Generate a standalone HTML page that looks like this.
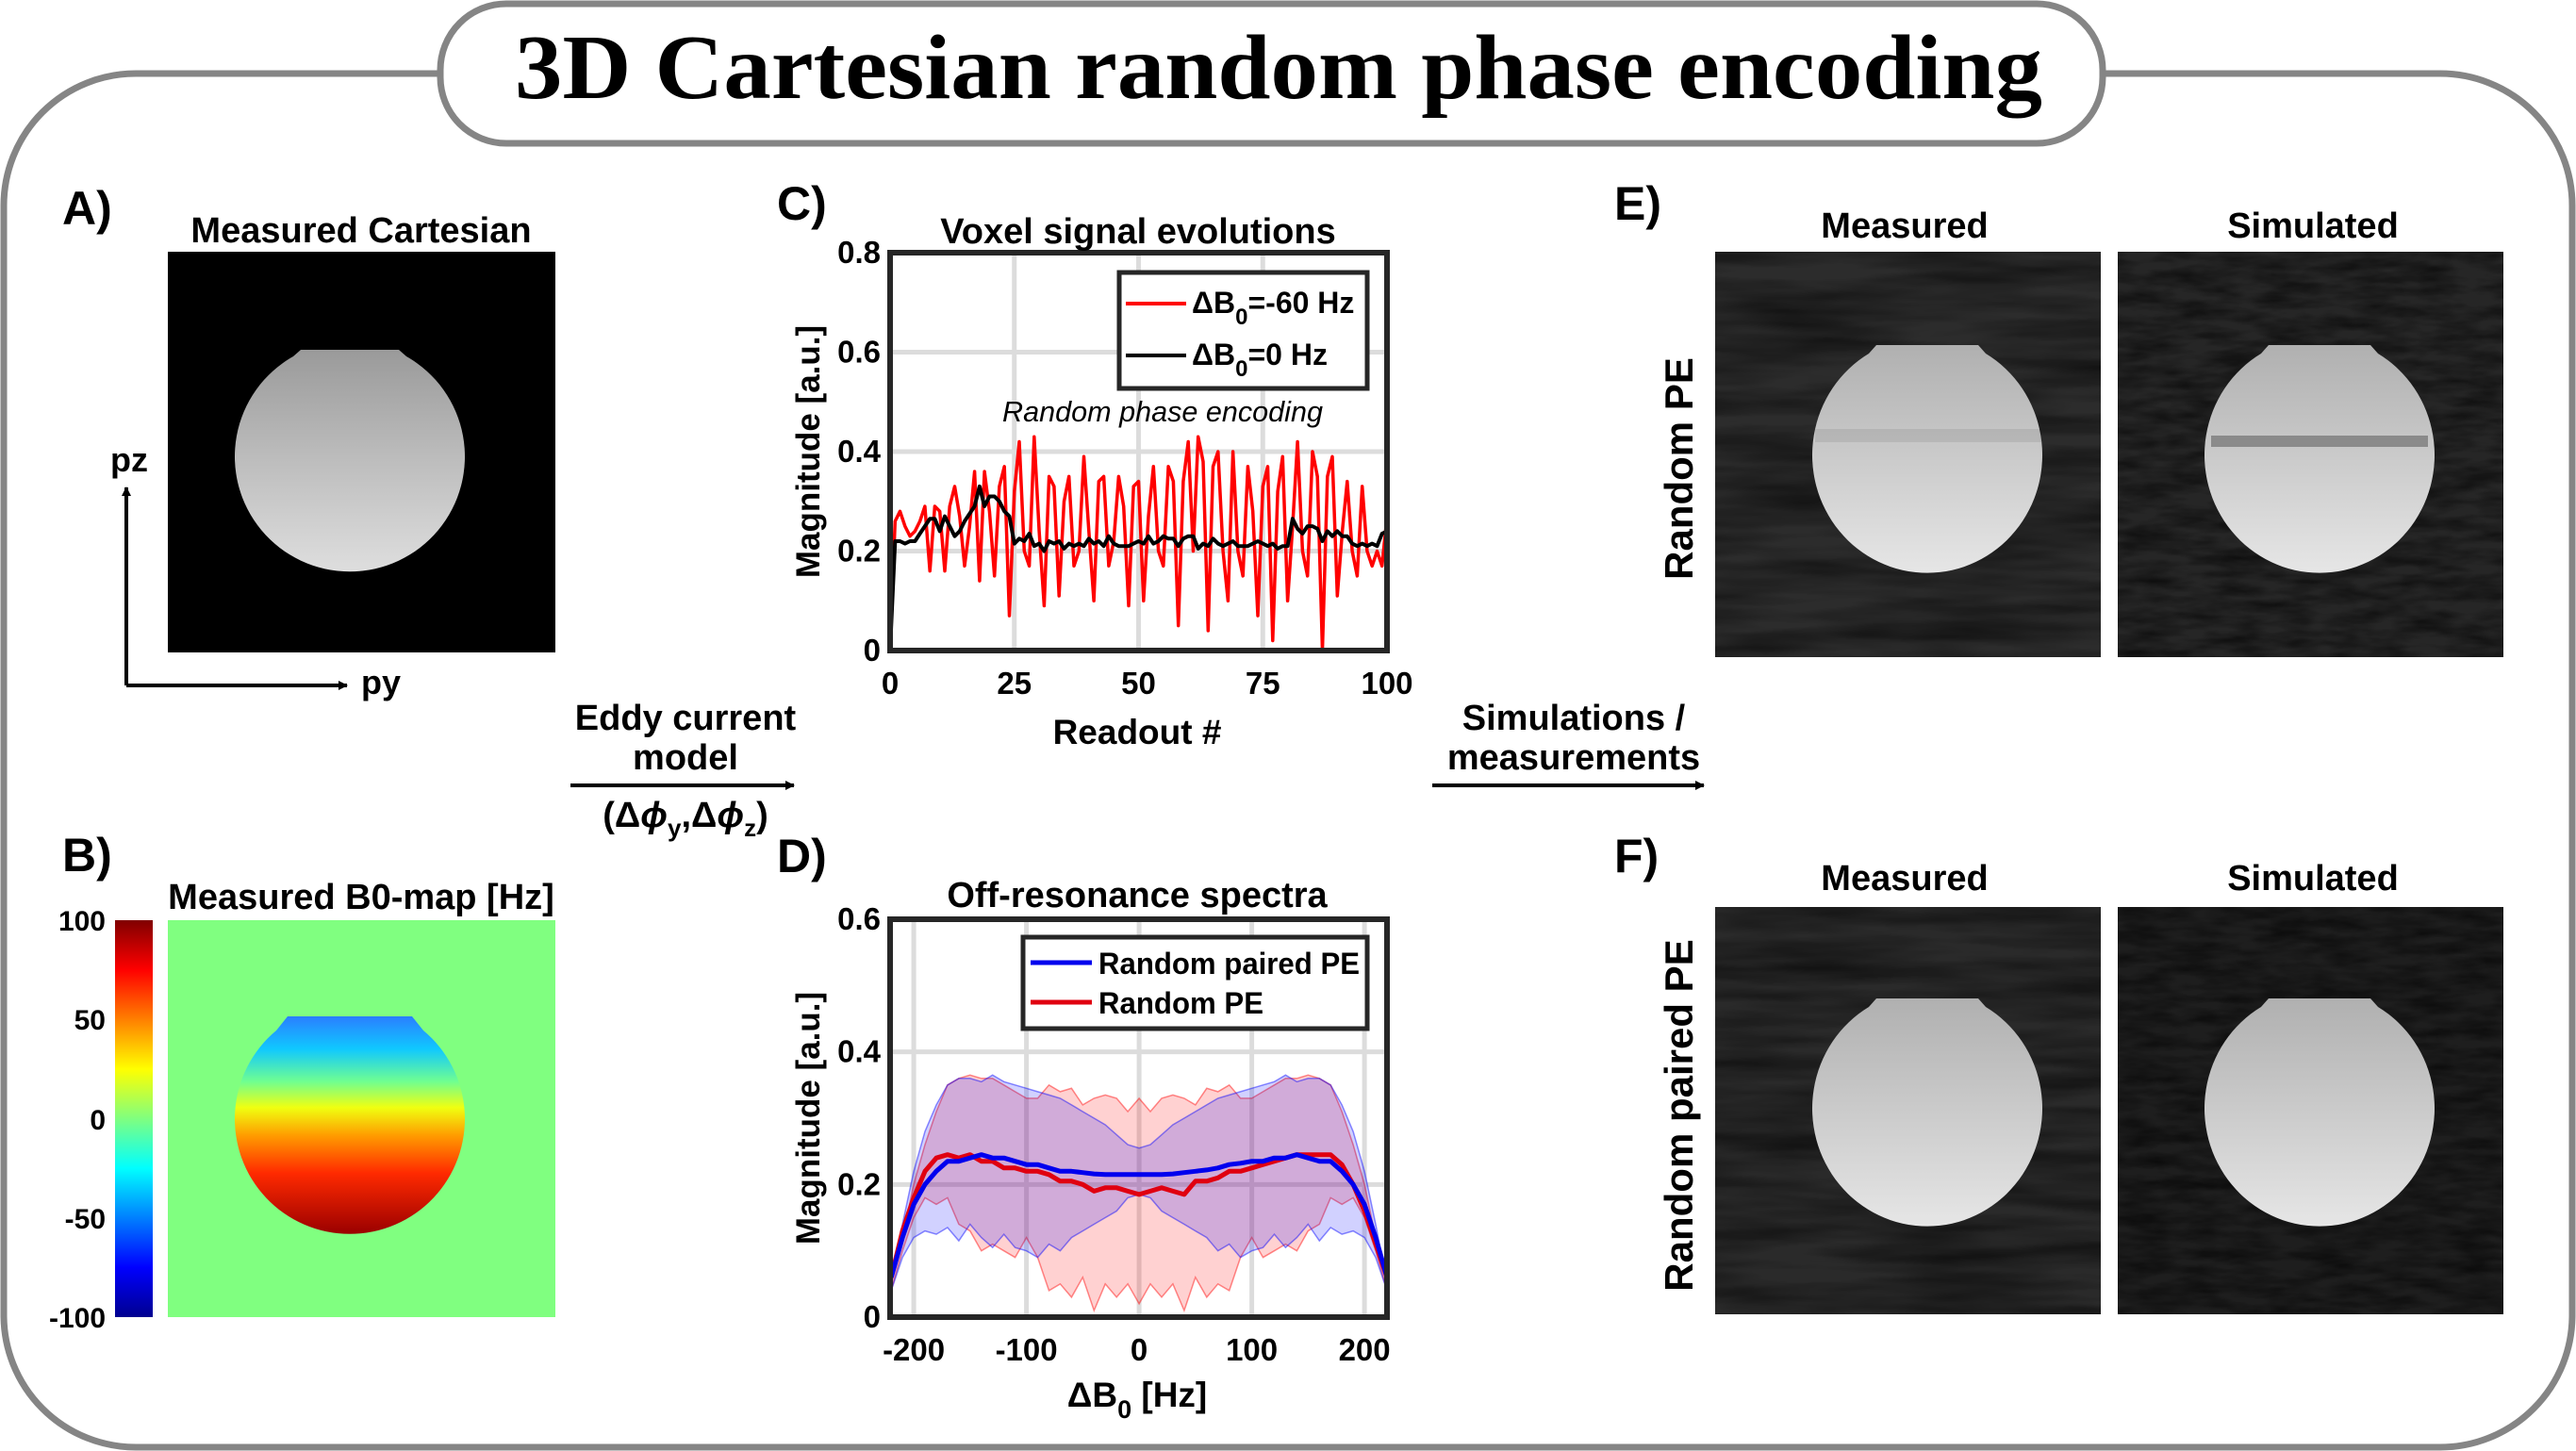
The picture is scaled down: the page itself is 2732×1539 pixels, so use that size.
<!DOCTYPE html>
<html><head><meta charset="utf-8">
<style>
html,body{margin:0;padding:0;background:#fff;}
svg{display:block;font-family:"Liberation Sans",sans-serif;}
.b{font-weight:bold;}
</style></head>
<body>
<svg id="fig" width="2732" height="1539" viewBox="0 0 2732 1539" xmlns="http://www.w3.org/2000/svg">
<defs>
  <filter id="noiseA" x="0" y="0" width="100%" height="100%">
    <feTurbulence type="fractalNoise" baseFrequency="0.006 0.05" numOctaves="3" seed="3"/>
    <feColorMatrix type="matrix" values="0 0 0 0 0  0 0 0 0 0  0 0 0 0 0  0 0 0 0.9 -0.25"/>
  </filter>
  <filter id="noiseB" x="0" y="0" width="100%" height="100%">
    <feTurbulence type="fractalNoise" baseFrequency="0.02 0.08" numOctaves="3" seed="7"/>
    <feColorMatrix type="matrix" values="0 0 0 0 0  0 0 0 0 0  0 0 0 0 0  0 0 0 1.0 -0.3"/>
  </filter>
  <linearGradient id="phantomG" x1="0" y1="0" x2="0" y2="1">
    <stop offset="0" stop-color="#b0b0b0"/><stop offset="1" stop-color="#e6e6e6"/>
  </linearGradient>
  <linearGradient id="phantomA" x1="0" y1="0" x2="0" y2="1">
    <stop offset="0" stop-color="#9a9a9a"/><stop offset="0.5" stop-color="#bdbdbd"/><stop offset="1" stop-color="#dedede"/>
  </linearGradient>
  <linearGradient id="jetMap" x1="0" y1="0" x2="0" y2="1">
    <stop offset="0" stop-color="#2a7fff"/><stop offset="0.15" stop-color="#10c8ff"/>
    <stop offset="0.3" stop-color="#70ff90"/><stop offset="0.42" stop-color="#f0ff10"/>
    <stop offset="0.55" stop-color="#ff9a00"/><stop offset="0.72" stop-color="#ff2a00"/>
    <stop offset="1" stop-color="#9a0000"/>
  </linearGradient>
  <linearGradient id="jetBar" x1="0" y1="1" x2="0" y2="0">
    <stop offset="0" stop-color="#00008f"/><stop offset="0.125" stop-color="#0000ff"/>
    <stop offset="0.375" stop-color="#00ffff"/><stop offset="0.625" stop-color="#ffff00"/>
    <stop offset="0.875" stop-color="#ff0000"/><stop offset="1" stop-color="#800000"/>
  </linearGradient>
  <marker id="arr" markerWidth="10" markerHeight="10" refX="9" refY="5" orient="auto" markerUnits="userSpaceOnUse">
    <path d="M0,0 L10,5 L0,10 z" fill="#000"/>
  </marker>
</defs>

<rect x="4" y="78" width="2724" height="1457" rx="140" ry="140" fill="#fff" stroke="#858585" stroke-width="7"/>
<rect x="467" y="4" width="1763" height="148" rx="70" ry="70" fill="#fff" stroke="#858585" stroke-width="7"/>
<text x="1356" y="104" text-anchor="middle" font-family="'Liberation Serif',serif" font-weight="bold" font-size="98" textLength="1620" lengthAdjust="spacingAndGlyphs">3D Cartesian random phase encoding</text>

<!-- Panel A -->
<text class="b" x="66" y="238" font-size="50">A)</text>
<text class="b" x="383" y="257" text-anchor="middle" font-size="38">Measured Cartesian</text>
<g>
  <rect x="178" y="267" width="411" height="425" fill="#000"/>
  <path d="M319,371 L423,371 L431,378 A122,122 0 1 1 311,378 Z" fill="url(#phantomA)"/>
</g>
<line x1="134" y1="727" x2="134" y2="517" stroke="#000" stroke-width="4" marker-end="url(#arr)"/>
<line x1="134" y1="727" x2="368" y2="727" stroke="#000" stroke-width="4" marker-end="url(#arr)"/>
<text class="b" x="137" y="500" text-anchor="middle" font-size="36">pz</text>
<text class="b" x="404" y="736" text-anchor="middle" font-size="36">py</text>

<!-- Panel B -->
<text class="b" x="66" y="924" font-size="50">B)</text>
<text class="b" x="383" y="964" text-anchor="middle" font-size="38">Measured B0-map [Hz]</text>
<rect x="122" y="976" width="40" height="421" fill="url(#jetBar)"/>
<g class="b" font-size="30" text-anchor="end">
  <text x="112" y="987">100</text><text x="112" y="1092">50</text><text x="112" y="1198">0</text>
  <text x="112" y="1303">-50</text><text x="112" y="1408">-100</text>
</g>
<g>
  <rect x="178" y="976" width="411" height="421" fill="#80ff80"/>
  <path d="M305,1078 L437,1078 L449,1093 A122,122 0 1 1 293,1093 Z" fill="url(#jetMap)"/>
</g>

<g class="b" font-size="38" text-anchor="middle">
  <text x="727" y="774">Eddy current</text><text x="727" y="816">model</text>
</g>
<line x1="605" y1="833" x2="842" y2="833" stroke="#000" stroke-width="4" marker-end="url(#arr)"/>
<text class="b" x="727" y="877" text-anchor="middle" font-size="38">(Δ<tspan font-style="italic">ϕ</tspan><tspan font-size="26" dy="10">y</tspan><tspan dy="-10">,Δ</tspan><tspan font-style="italic">ϕ</tspan><tspan font-size="26" dy="10">z</tspan><tspan dy="-10">)</tspan></text>
<g class="b" font-size="38" text-anchor="middle">
  <text x="1669" y="774">Simulations /</text><text x="1669" y="816">measurements</text>
</g>
<line x1="1519" y1="833" x2="1807" y2="833" stroke="#000" stroke-width="4" marker-end="url(#arr)"/>

<text class="b" x="824" y="233" font-size="50">C)</text>
<text class="b" x="824" y="925" font-size="50">D)</text>
<g id="chartC"></g>
<g id="chartD"></g>

<!-- Panel E -->
<text class="b" x="1712" y="233" font-size="50">E)</text>
<text class="b" x="2020" y="252" text-anchor="middle" font-size="38">Measured</text>
<text class="b" x="2453" y="252" text-anchor="middle" font-size="38">Simulated</text>
<text class="b" font-size="42" text-anchor="middle" transform="translate(1795,497) rotate(-90)">Random PE</text>
<g>
  <rect x="1819" y="267" width="409" height="430" fill="#2c2c2c"/>
  <rect x="1819" y="267" width="409" height="430" fill="#6a6a6a" filter="url(#noiseA)"/>
  <path d="M1990,366 L2098,366 L2106,375 A122,125 0 1 1 1982,375 Z" fill="url(#phantomG)"/>
  <rect x="1925" y="455" width="240" height="14" fill="#000" opacity="0.08"/>
</g>
<g>
  <rect x="2246" y="267" width="409" height="430" fill="#262626"/>
  <rect x="2246" y="267" width="409" height="430" fill="#707070" filter="url(#noiseB)"/>
  <path d="M2406,366 L2514,366 L2522,375 A122,125 0 1 1 2398,375 Z" fill="url(#phantomG)"/>
  <rect x="2345" y="462" width="230" height="12" fill="#000" opacity="0.3"/>
</g>

<!-- Panel F -->
<text class="b" x="1712" y="925" font-size="50">F)</text>
<text class="b" x="2020" y="944" text-anchor="middle" font-size="38">Measured</text>
<text class="b" x="2453" y="944" text-anchor="middle" font-size="38">Simulated</text>
<text class="b" font-size="42" text-anchor="middle" transform="translate(1795,1183) rotate(-90)">Random paired PE</text>
<g>
  <rect x="1819" y="962" width="409" height="432" fill="#2a2a2a"/>
  <rect x="1819" y="962" width="409" height="432" fill="#5a5a5a" filter="url(#noiseA)"/>
  <path d="M1990,1059 L2098,1059 L2106,1068 A122,125 0 1 1 1982,1068 Z" fill="url(#phantomG)"/>
</g>
<g>
  <rect x="2246" y="962" width="409" height="432" fill="#1e1e1e"/>
  <rect x="2246" y="962" width="409" height="432" fill="#4a4a4a" filter="url(#noiseB)"/>
  <path d="M2406,1059 L2514,1059 L2522,1068 A122,125 0 1 1 2398,1068 Z" fill="url(#phantomG)"/>
</g>
</svg>

<script>
const NS = "http://www.w3.org/2000/svg";
// ---- Chart C data ----
const cXTicks = [0, 25, 50, 75, 100];
const cYTicks = [0, 0.2, 0.4, 0.6, 0.8];
const cYTickLabels = ["0", "0.2", "0.4", "0.6", "0.8"];
const cRed = [0,0.26,0.28,0.25,0.23,0.24,0.26,0.29,0.16,0.29,0.28,0.16,0.29,0.33,0.27,0.17,0.25,0.36,0.14,0.36,0.28,0.15,0.33,0.37,0.07,0.32,0.42,0.20,0.17,0.43,0.24,0.09,0.35,0.33,0.11,0.30,0.35,0.17,0.20,0.39,0.24,0.10,0.34,0.35,0.17,0.22,0.35,0.29,0.09,0.33,0.34,0.10,0.27,0.37,0.20,0.17,0.37,0.34,0.05,0.34,0.42,0.20,0.43,0.38,0.04,0.37,0.40,0.20,0.10,0.40,0.20,0.15,0.37,0.28,0.07,0.33,0.37,0.02,0.32,0.39,0.10,0.25,0.42,0.20,0.15,0.40,0.35,0.00,0.35,0.39,0.11,0.24,0.34,0.20,0.15,0.33,0.20,0.17,0.20,0.17,0.27];
const cBlack = [0,0.22,0.22,0.215,0.22,0.22,0.235,0.25,0.265,0.265,0.24,0.27,0.25,0.23,0.24,0.26,0.275,0.29,0.33,0.29,0.31,0.31,0.30,0.28,0.27,0.215,0.225,0.22,0.235,0.21,0.215,0.20,0.22,0.215,0.22,0.205,0.215,0.21,0.215,0.21,0.225,0.215,0.22,0.21,0.23,0.215,0.21,0.21,0.21,0.215,0.22,0.215,0.23,0.215,0.22,0.23,0.225,0.225,0.21,0.225,0.23,0.23,0.205,0.215,0.21,0.225,0.215,0.21,0.215,0.22,0.21,0.21,0.21,0.215,0.22,0.215,0.21,0.215,0.205,0.21,0.21,0.265,0.245,0.235,0.25,0.25,0.245,0.22,0.24,0.23,0.24,0.23,0.23,0.215,0.21,0.215,0.21,0.215,0.21,0.235,0.24];
// ---- Chart D data ----
const dHz = [-220,-210,-200,-190,-180,-170,-160,-150,-140,-130,-120,-110,-100,-90,-80,-70,-60,-50,-40,-30,-20,-10,0,10,20,30,40,50,60,70,80,90,100,110,120,130,140,150,160,170,180,190,200,210,220];
const dXTicks = [-200,-100,0,100,200];
const dYTicks = [0,0.2,0.4,0.6];
const dYTickLabels = ["0","0.2","0.4","0.6"];
const dBlueMean = [0.06,0.12,0.17,0.20,0.22,0.235,0.235,0.24,0.245,0.24,0.24,0.235,0.23,0.23,0.225,0.22,0.22,0.218,0.216,0.215,0.215,0.215,0.215,0.215,0.215,0.216,0.218,0.22,0.222,0.225,0.23,0.232,0.235,0.235,0.24,0.24,0.245,0.24,0.235,0.235,0.22,0.20,0.17,0.12,0.06];
const dRedMean = [0.06,0.13,0.18,0.22,0.24,0.245,0.24,0.245,0.235,0.235,0.225,0.225,0.22,0.22,0.215,0.205,0.205,0.20,0.19,0.195,0.195,0.19,0.185,0.19,0.195,0.19,0.185,0.205,0.205,0.21,0.22,0.22,0.225,0.23,0.235,0.24,0.245,0.245,0.245,0.245,0.23,0.20,0.16,0.11,0.06];
const dBlueUpper = [0.05,0.14,0.22,0.28,0.32,0.35,0.36,0.36,0.355,0.365,0.355,0.35,0.345,0.34,0.335,0.33,0.32,0.31,0.30,0.29,0.275,0.26,0.255,0.26,0.275,0.29,0.30,0.31,0.32,0.33,0.335,0.34,0.345,0.35,0.355,0.365,0.355,0.36,0.36,0.35,0.32,0.28,0.22,0.14,0.05];
const dBlueLower = [0.04,0.09,0.12,0.13,0.125,0.135,0.115,0.14,0.12,0.105,0.125,0.105,0.10,0.09,0.11,0.10,0.12,0.13,0.14,0.15,0.16,0.18,0.185,0.18,0.16,0.15,0.14,0.13,0.12,0.10,0.11,0.09,0.10,0.105,0.125,0.105,0.12,0.14,0.115,0.135,0.125,0.13,0.12,0.09,0.04];
const dRedUpper = [0.05,0.12,0.20,0.26,0.31,0.35,0.36,0.365,0.36,0.36,0.35,0.34,0.33,0.33,0.35,0.34,0.345,0.32,0.33,0.335,0.33,0.31,0.33,0.31,0.33,0.335,0.33,0.32,0.345,0.34,0.35,0.33,0.33,0.34,0.35,0.36,0.36,0.365,0.36,0.35,0.31,0.26,0.20,0.12,0.05];
const dRedLower = [0.04,0.10,0.15,0.18,0.17,0.18,0.14,0.13,0.10,0.11,0.10,0.09,0.12,0.09,0.04,0.05,0.03,0.06,0.01,0.05,0.03,0.05,0.02,0.05,0.03,0.05,0.01,0.06,0.03,0.05,0.04,0.09,0.12,0.09,0.10,0.11,0.10,0.13,0.14,0.18,0.17,0.18,0.15,0.10,0.04];

function mk(tag, attrs, parent, txt){
  const e = document.createElementNS(NS, tag);
  for (const k in attrs) e.setAttribute(k, attrs[k]);
  if (txt !== undefined) e.textContent = txt;
  parent.appendChild(e);
  return e;
}
function axesFrame(g, L, T, R, B, xs, ys, xTicks, yTicks, yLabels, name){
  const grid = mk('g', {}, g);
  
  
  xTicks.forEach(v => mk('line', {x1: xs(v), x2: xs(v), y1: T, y2: B, stroke: '#dcdcdc', 'stroke-width': 5}, grid));
  yTicks.forEach(v => mk('line', {x1: L, x2: R, y1: ys(v), y2: ys(v), stroke: '#dcdcdc', 'stroke-width': 5}, grid));
  const xt = mk('g', {'font-size': 33, 'font-weight': 'bold', 'text-anchor': 'middle'}, g);
  
  
  xTicks.forEach(v => mk('text', {x: xs(v), y: B + 46}, xt, String(v)));
  const yt = mk('g', {'font-size': 33, 'font-weight': 'bold', 'text-anchor': 'end'}, g);
  
  
  yTicks.forEach((v, i) => mk('text', {x: L - 10, y: ys(v) + 11}, yt, yLabels[i]));
}
function pathOf(xv, yv, xs, ys){
  return xv.map((x, i) => (i ? 'L' : 'M') + xs(x).toFixed(1) + ',' + ys(yv[i]).toFixed(1)).join(' ');
}

// ---------- Chart C ----------
(function(){
  const g = document.getElementById('chartC');
  
  
  const L = 944, T = 268, R = 1471, B = 690;
  const xs = v => L + (v - 0) / 100 * (R - L);
  const ys = v => B - v / 0.8 * (B - T);
  axesFrame(g, L, T, R, B, xs, ys, cXTicks, cYTicks, cYTickLabels, 'chart-c');
  const idx = cRed.map((_, i) => i);
  const red = mk('path', {d: pathOf(idx, cRed, xs, ys), fill: 'none', stroke: '#ff0000', 'stroke-width': 3.5, 'stroke-linejoin': 'round'}, g);
  
  
  const idxB = cBlack.map((_, i) => i);
  const blk = mk('path', {d: pathOf(idxB, cBlack, xs, ys), fill: 'none', stroke: '#000', 'stroke-width': 4, 'stroke-linejoin': 'round'}, g);
  
  
  const fr = mk('rect', {x: L, y: T, width: R - L, height: B - T, fill: 'none', stroke: '#262626', 'stroke-width': 6}, g);
  
  
  const ann = mk('text', {x: 1233, y: 447, 'text-anchor': 'middle', 'font-size': 31, 'font-style': 'italic', textLength: 340, lengthAdjust: 'spacingAndGlyphs'}, g, 'Random phase encoding');
  
  
  const lg = mk('g', {}, g);
  
  
  mk('rect', {x: 1187, y: 289, width: 263, height: 123, fill: '#fff', stroke: '#262626', 'stroke-width': 5}, lg);
  mk('line', {x1: 1194, x2: 1258, y1: 322, y2: 322, stroke: '#ff0000', 'stroke-width': 4}, lg);
  mk('line', {x1: 1194, x2: 1258, y1: 377, y2: 377, stroke: '#000', 'stroke-width': 4}, lg);
  const t1 = mk('text', {x: 1264, y: 332, 'font-size': 32, 'font-weight': 'bold'}, lg);
  t1.innerHTML = 'ΔB<tspan font-size="24" dy="12">0</tspan><tspan dy="-12">=-60 Hz</tspan>';
  const t2 = mk('text', {x: 1264, y: 387, 'font-size': 32, 'font-weight': 'bold'}, lg);
  t2.innerHTML = 'ΔB<tspan font-size="24" dy="12">0</tspan><tspan dy="-12">=0 Hz</tspan>';
  const tt = mk('text', {x: 1207, y: 258, 'text-anchor': 'middle', 'font-size': 38, 'font-weight': 'bold'}, g, 'Voxel signal evolutions');
  
  
  const xl = mk('text', {x: 1206, y: 789, 'text-anchor': 'middle', 'font-size': 37, 'font-weight': 'bold'}, g, 'Readout #');
  
  
  const yl = mk('text', {transform: 'translate(869,479) rotate(-90)', 'text-anchor': 'middle', 'font-size': 35, 'font-weight': 'bold'}, g, 'Magnitude [a.u.]');
  
  
})();

// ---------- Chart D ----------
(function(){
  const g = document.getElementById('chartD');
  
  
  const L = 944, T = 975, R = 1471, B = 1397;
  const xs = v => L + (v + 221) / 441 * (R - L);
  const ys = v => B - v / 0.6 * (B - T);
  axesFrame(g, L, T, R, B, xs, ys, dXTicks, dYTicks, dYTickLabels, 'chart-d');
  function band(up, lo, color, name){
    const d = pathOf(dHz, up, xs, ys) + ' ' + dHz.slice().reverse().map((x, i) => 'L' + xs(x).toFixed(1) + ',' + ys(lo[lo.length - 1 - i]).toFixed(1)).join(' ') + ' Z';
    const p = mk('path', {d: d, fill: color, 'fill-opacity': 0.18, stroke: color, 'stroke-opacity': 0.45, 'stroke-width': 1.5}, g);
    
    
  }
  band(dRedUpper, dRedLower, '#ff0000', 'band-random-pe');
  band(dBlueUpper, dBlueLower, '#0000ff', 'band-random-paired-pe');
  const rm = mk('path', {d: pathOf(dHz, dRedMean, xs, ys), fill: 'none', stroke: '#e00010', 'stroke-width': 5, 'stroke-linejoin': 'round'}, g);
  
  
  const bm = mk('path', {d: pathOf(dHz, dBlueMean, xs, ys), fill: 'none', stroke: '#0000ee', 'stroke-width': 5, 'stroke-linejoin': 'round'}, g);
  
  
  const fr = mk('rect', {x: L, y: T, width: R - L, height: B - T, fill: 'none', stroke: '#262626', 'stroke-width': 6}, g);
  
  
  const lg = mk('g', {}, g);
  
  
  mk('rect', {x: 1085, y: 994, width: 365, height: 97, fill: '#fff', stroke: '#262626', 'stroke-width': 5}, lg);
  mk('line', {x1: 1093, x2: 1158, y1: 1021, y2: 1021, stroke: '#0000ee', 'stroke-width': 5}, lg);
  mk('line', {x1: 1093, x2: 1158, y1: 1063, y2: 1063, stroke: '#e00010', 'stroke-width': 5}, lg);
  mk('text', {x: 1165, y: 1033, 'font-size': 32, 'font-weight': 'bold', textLength: 277, lengthAdjust: 'spacingAndGlyphs'}, lg, 'Random paired PE');
  mk('text', {x: 1165, y: 1075, 'font-size': 32, 'font-weight': 'bold', textLength: 175, lengthAdjust: 'spacingAndGlyphs'}, lg, 'Random PE');
  const tt = mk('text', {x: 1206, y: 962, 'text-anchor': 'middle', 'font-size': 38, 'font-weight': 'bold'}, g, 'Off-resonance spectra');
  
  
  const xl = mk('text', {x: 1206, y: 1492, 'text-anchor': 'middle', 'font-size': 37, 'font-weight': 'bold'}, g);
  xl.innerHTML = 'ΔB<tspan font-size="27" dy="12">0</tspan><tspan dy="-12"> [Hz]</tspan>';
  
  
  const yl = mk('text', {transform: 'translate(869,1186) rotate(-90)', 'text-anchor': 'middle', 'font-size': 35, 'font-weight': 'bold'}, g, 'Magnitude [a.u.]');
  
  
})();
</script>
</body></html>
